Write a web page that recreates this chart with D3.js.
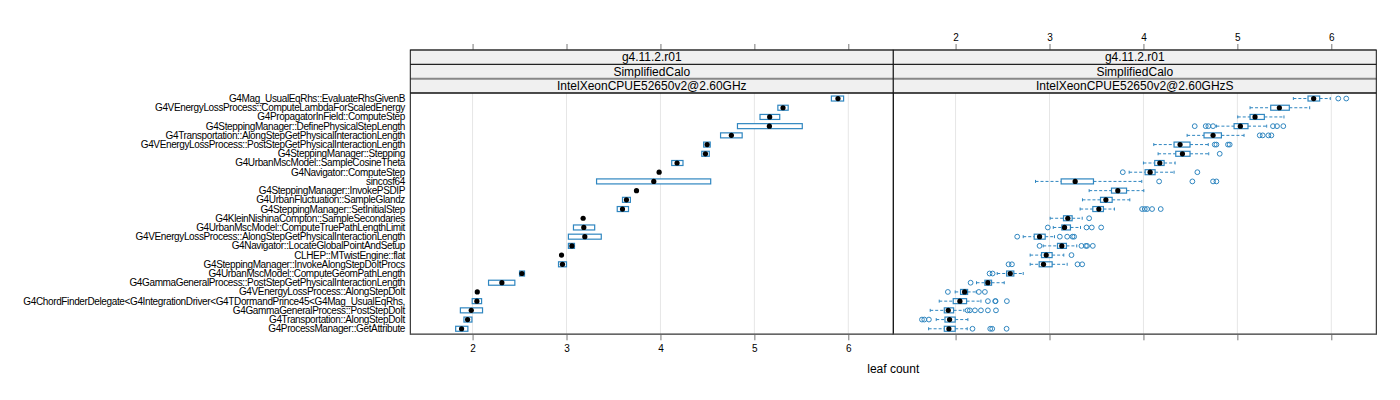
<!DOCTYPE html>
<html>
<head>
<meta charset="utf-8">
<script src="https://cdn.jsdelivr.net/npm/d3@7"></script>
<style>
body { margin: 0; background: #fff; }
text { font-family: "Liberation Sans", Arial, sans-serif; fill: #000; }
</style>
</head>
<body>
<main></main>
<script>
// rows, top to bottom as drawn
const categories = [
  'G4Mag_UsualEqRhs::EvaluateRhsGivenB',
  'G4VEnergyLossProcess::ComputeLambdaForScaledEnergy',
  'G4PropagatorInField::ComputeStep',
  'G4SteppingManager::DefinePhysicalStepLength',
  'G4Transportation::AlongStepGetPhysicalInteractionLength',
  'G4VEnergyLossProcess::PostStepGetPhysicalInteractionLength',
  'G4SteppingManager::Stepping',
  'G4UrbanMscModel::SampleCosineTheta',
  'G4Navigator::ComputeStep',
  'sincosf64',
  'G4SteppingManager::InvokePSDIP',
  'G4UrbanFluctuation::SampleGlandz',
  'G4SteppingManager::SetInitialStep',
  'G4KleinNishinaCompton::SampleSecondaries',
  'G4UrbanMscModel::ComputeTruePathLengthLimit',
  'G4VEnergyLossProcess::AlongStepGetPhysicalInteractionLength',
  'G4Navigator::LocateGlobalPointAndSetup',
  'CLHEP::MTwistEngine::flat',
  'G4SteppingManager::InvokeAlongStepDoItProcs',
  'G4UrbanMscModel::ComputeGeomPathLength',
  'G4GammaGeneralProcess::PostStepGetPhysicalInteractionLength',
  'G4VEnergyLossProcess::AlongStepDoIt',
  'G4ChordFinderDelegate<G4IntegrationDriver<G4TDormandPrince45<G4Mag_UsualEqRhs,',
  'G4GammaGeneralProcess::PostStepDoIt',
  'G4Transportation::AlongStepDoIt',
  'G4ProcessManager::GetAttribute'
]

const stripTexts = [
  ['g4.11.2.r01', 'SimplifiedCalo', 'IntelXeonCPUE52650v2@2.60GHz'],
  ['g4.11.2.r01', 'SimplifiedCalo', 'IntelXeonCPUE52650v2@2.60GHzS']
]
const xTicks = [2, 3, 4, 5, 6]

// left panel: median and box (null = no box)
const leftMedian = [5.89, 5.305, 5.163, 5.16, 4.755, 4.497, 4.479, 4.177, 3.986, 3.929,
  3.745, 3.638, 3.596, 3.177, 3.184, 3.195, 3.057, 2.947, 2.957, 2.525,
  2.312, 2.05, 2.046, 1.986, 1.947, 1.883]
const leftQ1 = [5.82, 5.25, 5.06, 4.82, 4.64, 4.46, 4.44, 4.12, null, 3.32,
  null, 3.596, 3.54, null, 3.074, 3.02, 3.02, null, 2.915, 2.50,
  2.17, null, 1.996, 1.87, 1.908, 1.82]
const leftQ3 = [5.95, 5.36, 5.27, 5.51, 4.87, 4.53, 4.52, 4.24, null, 4.535,
  null, 3.68, 3.66, null, 3.30, 3.37, 3.085, null, 3.0, 2.553,
  2.45, null, 2.096, 2.106, 1.993, 1.95]

// right panel: full boxplots
const rightLo = [5.596, 5.135, 5.004, 4.777, 4.465, 4.11, 4.156, 4.0, 3.848, 2.851,
  3.422, 3.351, 3.326, 3.007, 3.04, 2.72, 2.933, 2.794, 2.794, 2.443,
  2.223, 1.996, 1.826, 1.73, 1.794, 1.713]
const rightQ1 = [5.752, 5.355, 5.135, 4.965, 4.645, 4.326, 4.344, 4.12, 4.018, 3.124,
  3.66, 3.543, 3.461, 3.149, 3.131, 2.837, 3.085, 2.915, 2.89, 2.543,
  2.312, 2.053, 1.975, 1.88, 1.887, 1.88]
const rightMedian = [5.812, 5.447, 5.188, 5.032, 4.741, 4.39, 4.415, 4.174, 4.071, 3.273,
  3.727, 3.6, 3.525, 3.195, 3.16, 2.894, 3.131, 2.965, 2.936, 2.582,
  2.344, 2.096, 2.046, 1.922, 1.936, 1.929]
const rightQ3 = [5.876, 5.553, 5.287, 5.113, 4.83, 4.496, 4.496, 4.22, 4.124, 3.468,
  3.82, 3.667, 3.574, 3.241, 3.223, 2.954, 3.18, 3.028, 3.028, 2.62,
  2.383, 2.128, 2.117, 1.979, 1.996, 1.996]
const rightHi = [5.989, 5.77, 5.496, 5.312, 5.071, 4.69, 4.695, 4.337, 4.326, 3.982,
  4.004, 3.855, 3.691, 3.348, 3.33, 3.053, 3.29, 3.152, 3.188, 2.72,
  2.518, 2.22, 2.27, 2.089, 2.131, 2.124]
const rightOutliers = [
  [6.074, 6.159],
  [],
  [],
  [4.546, 4.663, 4.691, 4.741, 5.379, 5.422, 5.489],
  [5.238, 5.27, 5.33, 5.362],
  [4.759, 4.777, 4.90, 4.918],
  [4.812],
  [],
  [3.78, 4.574],
  [4.167, 4.521, 4.741, 4.777],
  [],
  [],
  [3.986, 4.014, 4.039, 4.092, 4.184],
  [3.422],
  [2.982, 3.394, 3.45, 3.55],
  [2.656, 3.11, 3.188, 3.245, 3.262],
  [2.894, 3.34, 3.387, 3.40, 3.461],
  [3.234],
  [2.564, 2.6, 3.298, 3.348],
  [2.362, 2.394],
  [2.16],
  [1.918, 2.248, 2.312],
  [2.344, 2.422, 2.426, 2.546],
  [2.128, 2.152, 2.206, 2.27, 2.344, 2.43],
  [1.642, 1.667, 1.716],
  [2.18, 2.369, 2.39, 2.543]
]

const width = 1400, height = 400
const blue = '#2f86c0'
const panelW = 483
const panelX = [410.3, 893.3]
const plotTop = 93, plotBottom = 334.3
const stripTop = 50, stripH = 14.33

const x = d3.scaleLinear().domain([1.337, 6.479]).range([0, panelW])
const y = d3.scalePoint().domain(categories).range([plotTop, plotBottom]).padding(0.6)

const svg = d3.select('main').append('svg')
  .attr('width', width)
  .attr('height', height)

// category labels
svg.append('g')
  .selectAll('text')
  .data(categories)
  .enter().append('text')
  .attr('x', 405)
  .attr('y', d => y(d))
  .attr('dy', '0.35em')
  .attr('text-anchor', 'end')
  .attr('font-size', 10)
  .attr('letter-spacing', '-0.37px')
  .text(d => d)

panelX.forEach((px, p) => {
  const g = svg.append('g').attr('transform', `translate(${px},0)`)

  // grid
  g.selectAll('.grid')
    .data(xTicks)
    .enter().append('line')
    .attr('x1', d => x(d)).attr('x2', d => x(d))
    .attr('y1', plotTop).attr('y2', plotBottom)
    .attr('stroke', '#e6e6e6')

  // strips
  stripTexts[p].forEach((t, i) => {
    const sy = stripTop + i * stripH
    g.append('rect')
      .attr('x', 0).attr('y', sy)
      .attr('width', panelW).attr('height', stripH)
      .attr('fill', '#f0f0f0')
    g.append('text')
      .attr('x', panelW / 2)
      .attr('y', sy + stripH / 2)
      .attr('dy', '0.36em')
      .attr('text-anchor', 'middle')
      .attr('font-size', 12)
      .text(t)
  })
  const stripLines = [[stripTop, '#999', 1.3], [stripTop + stripH, '#222', 1.3],
    [stripTop + 2 * stripH, '#888', 2], [plotTop, '#111', 1.3]]
  stripLines.forEach(([ly, c, w]) => {
    g.append('line')
      .attr('x1', 0).attr('x2', panelW)
      .attr('y1', ly).attr('y2', ly)
      .attr('stroke', c).attr('stroke-width', w)
  })

  // top axis: labels only on the right panel
  const ta = g.append('g').attr('transform', `translate(0,${stripTop})`)
    .call(d3.axisTop(x).tickValues(xTicks).tickSize(6).tickPadding(3)
      .tickFormat(p === 1 ? d3.format('d') : ''))
  ta.select('.domain').remove()
  ta.selectAll('line').attr('stroke', '#777')
  ta.selectAll('text').attr('font-size', 10).attr('font-family', null)

  // bottom axis: labels only on the left panel
  const ba = g.append('g').attr('transform', `translate(0,${plotBottom})`)
    .call(d3.axisBottom(x).tickValues(xTicks).tickSize(6).tickPadding(5)
      .tickFormat(p === 0 ? d3.format('d') : ''))
  ba.select('.domain').remove()
  ba.selectAll('line').attr('stroke', '#777')
  ba.selectAll('text').attr('font-size', 10).attr('font-family', null)

  // panel frame
  g.append('rect')
    .attr('x', 0).attr('y', stripTop)
    .attr('width', panelW).attr('height', plotBottom - stripTop)
    .attr('fill', 'none')
    .attr('stroke', '#111')
  g.append('line')
    .attr('x1', 0).attr('x2', panelW)
    .attr('y1', plotBottom).attr('y2', plotBottom)
    .attr('stroke', '#666').attr('stroke-width', 1.5)

  const bh = 5
  if (p === 0) {
    const rows = categories.map((c, i) => ({c, med: leftMedian[i], q1: leftQ1[i], q3: leftQ3[i]}))
    g.selectAll('.box')
      .data(rows.filter(d => d.q1 !== null))
      .enter().append('rect')
      .attr('x', d => x(d.q1))
      .attr('y', d => y(d.c) - bh / 2)
      .attr('width', d => x(d.q3) - x(d.q1))
      .attr('height', bh)
      .attr('fill', '#fff')
      .attr('stroke', blue)
      .attr('stroke-width', 1.2)
    g.selectAll('.med')
      .data(rows)
      .enter().append('circle')
      .attr('cx', d => x(d.med))
      .attr('cy', d => y(d.c))
      .attr('r', 2.6)
      .attr('fill', '#000')
  } else {
    const rows = categories.map((c, i) => ({
      c, lo: rightLo[i], q1: rightQ1[i], med: rightMedian[i], q3: rightQ3[i],
      hi: rightHi[i], out: rightOutliers[i]
    }))
    const row = g.selectAll('.row')
      .data(rows)
      .enter().append('g')
      .attr('transform', d => `translate(0,${y(d.c)})`)

    // whiskers
    row.append('line')
      .attr('x1', d => x(d.lo)).attr('x2', d => x(d.q1))
      .attr('stroke', blue).attr('stroke-dasharray', '3,2')
    row.append('line')
      .attr('x1', d => x(d.q3)).attr('x2', d => x(d.hi))
      .attr('stroke', blue).attr('stroke-dasharray', '3,2')
    row.append('line')
      .attr('x1', d => x(d.lo)).attr('x2', d => x(d.lo))
      .attr('y1', -1.5).attr('y2', 1.5)
      .attr('stroke', blue)
    row.append('line')
      .attr('x1', d => x(d.hi)).attr('x2', d => x(d.hi))
      .attr('y1', -1.5).attr('y2', 1.5)
      .attr('stroke', blue)

    row.append('rect')
      .attr('x', d => x(d.q1))
      .attr('y', -bh / 2)
      .attr('width', d => x(d.q3) - x(d.q1))
      .attr('height', bh)
      .attr('fill', 'none')
      .attr('stroke', blue)
      .attr('stroke-width', 1.2)

    row.selectAll('.out')
      .data(d => d.out)
      .enter().append('circle')
      .attr('cx', d => x(d))
      .attr('r', 2.4)
      .attr('fill', 'none')
      .attr('stroke', blue)

    row.append('circle')
      .attr('cx', d => x(d.med))
      .attr('r', 2.6)
      .attr('fill', '#000')
  }
})

svg.append('text')
  .attr('x', 893.3)
  .attr('y', 369)
  .attr('dy', '0.35em')
  .attr('text-anchor', 'middle')
  .attr('font-size', 12)
  .text('leaf count')
</script>
</body>
</html>
